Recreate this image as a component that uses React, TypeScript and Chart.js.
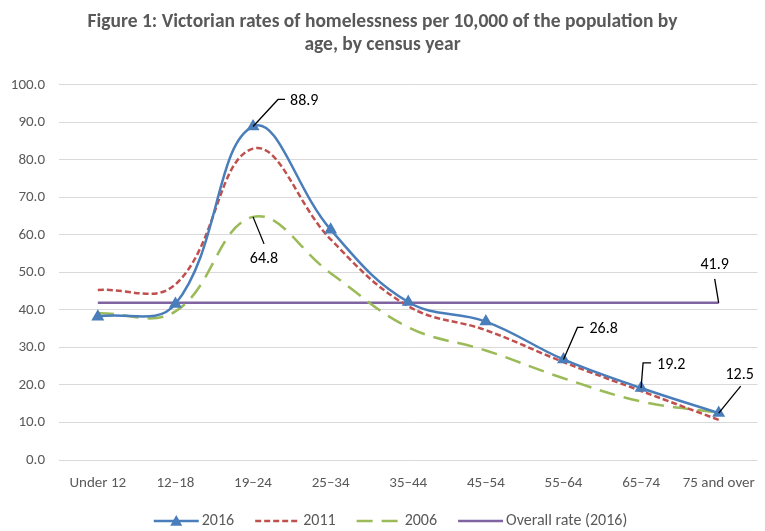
import React, { useEffect, useRef } from "react";
import { Chart, registerables } from "chart.js";

Chart.register(...registerables);

const categories = ["Under 12", "12–18", "19–24", "25–34", "35–44", "45–54", "55–64", "65–74", "75 and over"];
const rate2016 = [38.2, 41.6, 88.9, 61.4, 42.1, 36.9, 26.8, 19.2, 12.5];
const rate2011 = [45.3, 46.8, 83.0, 58.8, 41.0, 34.6, 26.1, 18.4, 10.7];
const rate2006 = [39.1, 39.6, 64.8, 49.8, 35.4, 29.2, 21.8, 15.6, 12.6];
const overall2016 = [41.9, 41.9, 41.9, 41.9, 41.9, 41.9, 41.9, 41.9, 41.9];
const yTicks = [0, 10, 20, 30, 40, 50, 60, 70, 80, 90, 100];
const titleLines = [
  "Figure 1: Victorian rates of homelessness per 10,000 of the population by",
  "age, by census year",
];

const FONT = "Carlito, Calibri, 'Liberation Sans', sans-serif";

// Callout label layout: dataset index, point index, leader path (relative px), text anchor
const callouts = [
  { ds: 0, idx: 2, path: [[0, 0], [25, -27], [32, -27]], tx: 37, ty: -25, align: "left" },
  { ds: 2, idx: 2, path: [[0, 0], [11, 27]], tx: 11, ty: 42, align: "center" },
  { ds: 3, idx: 8, path: [[0, 0], [-4, -24]], tx: -4, ty: -38, align: "center" },
  { ds: 0, idx: 6, path: [[0, 0], [14, -32], [20, -32]], tx: 26, ty: -30, align: "left" },
  { ds: 0, idx: 7, path: [[0, 0], [2, -25], [10, -25]], tx: 16, ty: -23, align: "left" },
  { ds: 0, idx: 8, path: [[0, 0], [22, -27]], tx: 21, ty: -38, align: "center" },
];

const calloutPlugin = {
  id: "callouts",
  afterDatasetsDraw(chart: any) {
    const ctx = chart.ctx;
    ctx.save();
    callouts.forEach((c) => {
      const meta = chart.getDatasetMeta(c.ds);
      const el = meta.data[c.idx];
      if (!el) return;
      const x0 = el.x;
      const y0 = el.y;
      ctx.strokeStyle = "#000000";
      ctx.lineWidth = 1.3;
      ctx.setLineDash([]);
      ctx.beginPath();
      c.path.forEach((p, i) => {
        if (i === 0) ctx.moveTo(x0 + p[0], y0 + p[1]);
        else ctx.lineTo(x0 + p[0], y0 + p[1]);
      });
      ctx.stroke();
      const v = chart.data.datasets[c.ds].data[c.idx];
      ctx.fillStyle = "#000000";
      ctx.font = `16px ${FONT}`;
      ctx.textAlign = c.align;
      ctx.textBaseline = "middle";
      ctx.fillText(Number(v).toFixed(1), x0 + c.tx, y0 + c.ty);
    });
    ctx.restore();
  },
};

const legendPlugin = {
  id: "customLegend",
  afterDraw(chart: any) {
    const ctx = chart.ctx;
    const ds = chart.data.datasets;
    ctx.save();
    ctx.font = `16px ${FONT}`;
    const lineW = 45;
    const gapText = 3;
    const gapItem = 21;
    const widths = ds.map((d: any) => lineW + gapText + ctx.measureText(d.label).width);
    const total = widths.reduce((a: number, b: number) => a + b, 0) + gapItem * (ds.length - 1);
    let x = chart.width / 2 + 8 - total / 2;
    const y = 521;
    ds.forEach((d: any, i: number) => {
      ctx.strokeStyle = d.borderColor;
      ctx.lineWidth = d.borderWidth;
      ctx.setLineDash(d.borderDash || []);
      ctx.beginPath();
      ctx.moveTo(x, y);
      ctx.lineTo(x + lineW, y);
      ctx.stroke();
      ctx.setLineDash([]);
      if (d.pointStyle === "triangle" && d.pointRadius > 0) {
        const r = d.pointRadius + 1;
        const cx = x + lineW / 2;
        ctx.fillStyle = d.pointBackgroundColor;
        ctx.beginPath();
        ctx.moveTo(cx, y - r);
        ctx.lineTo(cx + r, y + r * 0.8);
        ctx.lineTo(cx - r, y + r * 0.8);
        ctx.closePath();
        ctx.fill();
      }
      ctx.fillStyle = "#595959";
      ctx.textAlign = "left";
      ctx.textBaseline = "middle";
      ctx.fillText(d.label, x + lineW + gapText, y);
      x += widths[i] + gapItem;
    });
    ctx.restore();
  },
};

export default function App() {
  const ref = useRef<HTMLCanvasElement | null>(null);

  useEffect(() => {
    if (!ref.current) return;
    const chart = new Chart(ref.current, {
      type: "line",
      data: {
        labels: categories,
        datasets: [
          {
            label: "2016",
            data: rate2016,
            borderColor: "#4A7EBB",
            backgroundColor: "#4A7EBB",
            pointBackgroundColor: "#4A7EBB",
            pointBorderColor: "#4A7EBB",
            borderWidth: 2.5,
            pointStyle: "triangle",
            pointRadius: 5,
            tension: 0.4,
            fill: false,
          },
          {
            label: "2011",
            data: rate2011,
            borderColor: "#C0504D",
            backgroundColor: "#C0504D",
            borderWidth: 2.5,
            borderDash: [6, 3],
            pointRadius: 0,
            tension: 0.4,
            fill: false,
          },
          {
            label: "2006",
            data: rate2006,
            borderColor: "#9BBB59",
            backgroundColor: "#9BBB59",
            borderWidth: 2.5,
            borderDash: [16, 9],
            pointRadius: 0,
            tension: 0.4,
            fill: false,
          },
          {
            label: "Overall rate (2016)",
            data: overall2016,
            borderColor: "#8064A2",
            backgroundColor: "#8064A2",
            borderWidth: 2.5,
            pointRadius: 0,
            tension: 0,
            fill: false,
          },
        ],
      } as any,
      options: {
        responsive: false,
        animation: false,
        layout: { padding: { left: 0, right: 0, top: 0, bottom: 33 } },
        plugins: {
          legend: { display: false },
          tooltip: { enabled: false },
          title: {
            display: true,
            text: titleLines,
            color: "#595959",
            font: { family: FONT, size: 19.5, weight: "bold", lineHeight: 1.2 },
            padding: { top: 10, bottom: 28 },
          },
        },
        scales: {
          x: {
            offset: true,
            grid: { display: false },
            border: { display: false },
            ticks: {
              color: "#595959",
              font: { family: FONT, size: 15 },
              padding: 6,
              maxRotation: 0,
              autoSkip: false,
            },
          },
          y: {
            min: 0,
            max: 100,
            afterBuildTicks: (scale: any) => {
              scale.ticks = yTicks.map((v) => ({ value: v }));
            },
            afterFit: (scale: any) => {
              scale.width = 59;
            },
            grid: { color: "#D9D9D9", lineWidth: 1, drawTicks: false },
            border: { display: false },
            ticks: {
              color: "#595959",
              font: { family: FONT, size: 15 },
              padding: 14,
              callback: (v: any) => Number(v).toFixed(1),
            },
          },
        },
      } as any,
      plugins: [calloutPlugin, legendPlugin],
    });
    return () => chart.destroy();
  }, []);

  return (
    <div style={{ position: "fixed", left: 0, top: 0, width: 765, height: 531, background: "#fff" }}>
      <canvas ref={ref} width={765} height={531} />
    </div>
  );
}
